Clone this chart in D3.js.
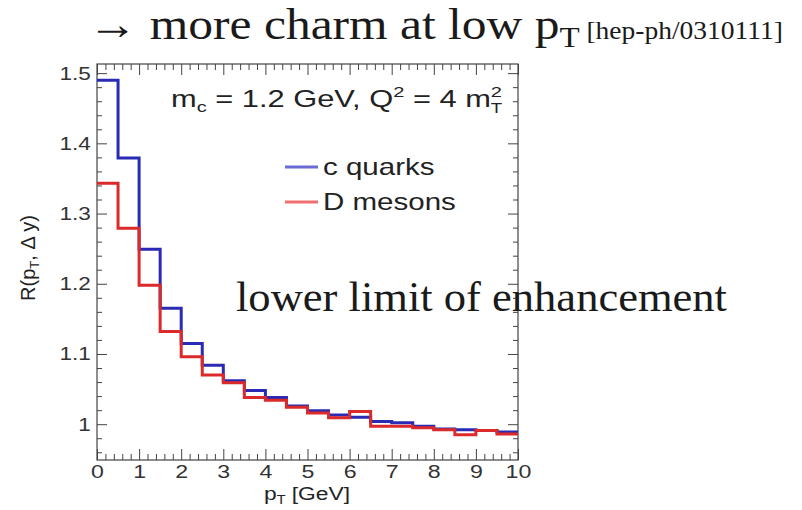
<!DOCTYPE html>
<meta charset="utf-8">
<style>
    body { margin: 0; background: #fff; }
    .axis line { stroke: #444; stroke-width: 1px; }
    .axis text { font-family: "Liberation Sans", Arial, sans-serif; fill: #333; }
    .step { fill: none; stroke-width: 3px; }
    .sans { font-family: "Liberation Sans", Arial, sans-serif; fill: #222; }
    .serif { font-family: "Liberation Serif", "Times New Roman", serif; fill: #1a1a1a; }
</style>

<svg width="802" height="510"></svg>
<script src="https://d3js.org/d3.v7.min.js"></script>
<script>

    // lower edges of the 0.5 GeV pT bins
    var binLow = [0, 0.5, 1, 1.5, 2, 2.5, 3, 3.5, 4, 4.5, 5, 5.5, 6, 6.5, 7, 7.5, 8, 8.5, 9, 9.5];

    var cQuarks = [1.490, 1.379, 1.249, 1.165, 1.115, 1.084, 1.062, 1.048, 1.038, 1.026,
                   1.019, 1.013, 1.010, 1.004, 1.002, 0.997, 0.993, 0.992, 0.991, 0.989];

    var dMesons = [1.343, 1.279, 1.198, 1.132, 1.096, 1.070, 1.059, 1.038, 1.034, 1.024,
                   1.016, 1.009, 1.018, 0.997, 0.997, 0.995, 0.992, 0.985, 0.991, 0.986];

    var xTicks = [0, 1, 2, 3, 4, 5, 6, 7, 8, 9, 10];
    var yTicks = [1, 1.1, 1.2, 1.3, 1.4, 1.5];

    var series = [
        { name: "c quarks", values: cQuarks, color: "#2a2ab4", legend: "#6b6bd6" },
        { name: "D mesons", values: dMesons, color: "#dc2a2a", legend: "#f07070" }
    ];

    var svg = d3.select("svg");
    var margin = { left: 97, top: 64, right: 284, bottom: 50 };
    var width = 802 - margin.left - margin.right;
    var height = 510 - margin.top - margin.bottom;

    var svgG = svg.append("g")
        .attr("transform", "translate(" + margin.left + "," + margin.top + ")");

    var xScale = d3.scaleLinear().domain([0, 10]).range([0, width]);
    var yScale = d3.scaleLinear().domain([0.949, 1.513]).range([height, 0]);

    var xMinor = d3.range(0.2, 10, 0.2).filter(function (v) { return Math.abs(v - Math.round(v)) > 1e-6; });
    var yMinor = d3.range(0.96, 1.51, 0.02).filter(function (v) { return Math.abs(v * 10 - Math.round(v * 10)) > 1e-6; });

    function addAxis(axis, tr) {
        var a = svgG.append("g")
            .attr("class", "axis")
            .attr("transform", tr)
            .call(axis);
        a.select(".domain").remove();
        return a;
    }

    // bottom
    var xAx = addAxis(d3.axisBottom(xScale).tickValues(xTicks).tickSize(-11).tickPadding(4.5), "translate(0," + height + ")");
    xAx.selectAll("text").style("font-size", "19px").attr("transform", "scale(1.22,1)");
    addAxis(d3.axisBottom(xScale).tickValues(xMinor).tickSize(-6).tickFormat(""), "translate(0," + height + ")");
    // top
    addAxis(d3.axisTop(xScale).tickValues(xTicks).tickSize(-11).tickFormat(""), "translate(0,0)");
    addAxis(d3.axisTop(xScale).tickValues(xMinor).tickSize(-6).tickFormat(""), "translate(0,0)");
    // left
    var yAx = addAxis(d3.axisLeft(yScale).tickValues(yTicks).tickSize(-10)
        .tickFormat(function (d) { return d === 1 ? "1" : d.toFixed(1); }), "translate(0,0)");
    yAx.selectAll("text").style("font-size", "18.5px").attr("x", -5).attr("transform", "scale(1.22,1)");
    addAxis(d3.axisLeft(yScale).tickValues(yMinor).tickSize(-5).tickFormat(""), "translate(0,0)");
    // right
    addAxis(d3.axisRight(yScale).tickValues(yTicks).tickSize(-10).tickFormat(""), "translate(" + width + ",0)");
    addAxis(d3.axisRight(yScale).tickValues(yMinor).tickSize(-5).tickFormat(""), "translate(" + width + ",0)");

    svgG.append("rect")
        .attr("width", width)
        .attr("height", height)
        .attr("fill", "none")
        .attr("stroke", "#444")
        .attr("stroke-width", 1.2);

    var line = d3.line()
        .curve(d3.curveStepAfter)
        .x(function (d) { return xScale(d[0]); })
        .y(function (d) { return yScale(d[1]); });

    svgG.selectAll(".step")
        .data(series)
        .enter().append("path")
        .attr("class", "step")
        .attr("stroke", function (d) { return d.color; })
        .attr("d", function (d) {
            var pts = binLow.map(function (b, i) { return [b, d.values[i]]; });
            pts.push([xScale.domain()[1], d.values[d.values.length - 1]]);
            return line(pts);
        });

    // legend
    var legend = svg.append("g")
        .selectAll("g")
        .data(series)
        .enter().append("g")
        .attr("transform", function (d, i) { return "translate(285," + (167 + i * 35) + ")"; });

    legend.append("line")
        .attr("x1", 0).attr("x2", 33)
        .attr("stroke", function (d) { return d.legend; })
        .attr("stroke-width", 3);

    legend.append("text")
        .attr("class", "sans")
        .attr("transform", "translate(38,8) scale(1.23,1)")
        .style("font-size", "24px")
        .text(function (d) { return d.name; });

    // annotation m_c = 1.2 GeV, Q^2 = 4 m_T^2
    var ann = svg.append("text")
        .attr("class", "sans")
        .attr("transform", "translate(171,107) scale(1.34,1)")
        .style("font-size", "23px");
    ann.append("tspan").text("m");
    ann.append("tspan").attr("dy", 5).style("font-size", "15px").text("c");
    ann.append("tspan").attr("dy", -5).text(" = 1.2 GeV, Q");
    ann.append("tspan").attr("dy", -10).style("font-size", "15px").text("2");
    ann.append("tspan").attr("dy", 10).text(" = 4 m");
    ann.append("tspan").attr("dy", -10).style("font-size", "15px").text("2");
    ann.append("tspan").attr("dx", -8.3).attr("dy", 16).style("font-size", "14px").text("T");

    // axis titles
    var xt = svg.append("text")
        .attr("class", "sans")
        .attr("text-anchor", "middle")
        .attr("transform", "translate(307,500) scale(1.2,1)")
        .style("font-size", "19px");
    xt.append("tspan").text("p");
    xt.append("tspan").attr("dy", 4).style("font-size", "12px").text("T");
    xt.append("tspan").attr("dy", -4).text(" [GeV]");

    var yt = svg.append("text")
        .attr("class", "sans")
        .attr("text-anchor", "middle")
        .attr("transform", "translate(35,258) rotate(-90)")
        .style("font-size", "20px");
    yt.append("tspan").text("R(p");
    yt.append("tspan").attr("dy", 4).style("font-size", "13px").text("T");
    yt.append("tspan").attr("dy", -4).text(", \u0394 y)");

    // slide texts
    var title = svg.append("text")
        .attr("class", "serif")
        .attr("transform", "translate(88,39) scale(1.1,1)")
        .style("font-size", "45px");
    title.append("tspan").text("\u2192 more charm at low p");
    title.append("tspan").attr("dy", 8).style("font-size", "30px").text("T");
    title.append("tspan").attr("dy", -8).style("font-size", "25px").text(" [hep-ph/0310111]");

    svg.append("text")
        .attr("class", "serif")
        .attr("x", 236)
        .attr("y", 311)
        .attr("textLength", 491)
        .attr("lengthAdjust", "spacingAndGlyphs")
        .style("font-size", "42px")
        .text("lower limit of enhancement");

</script>
